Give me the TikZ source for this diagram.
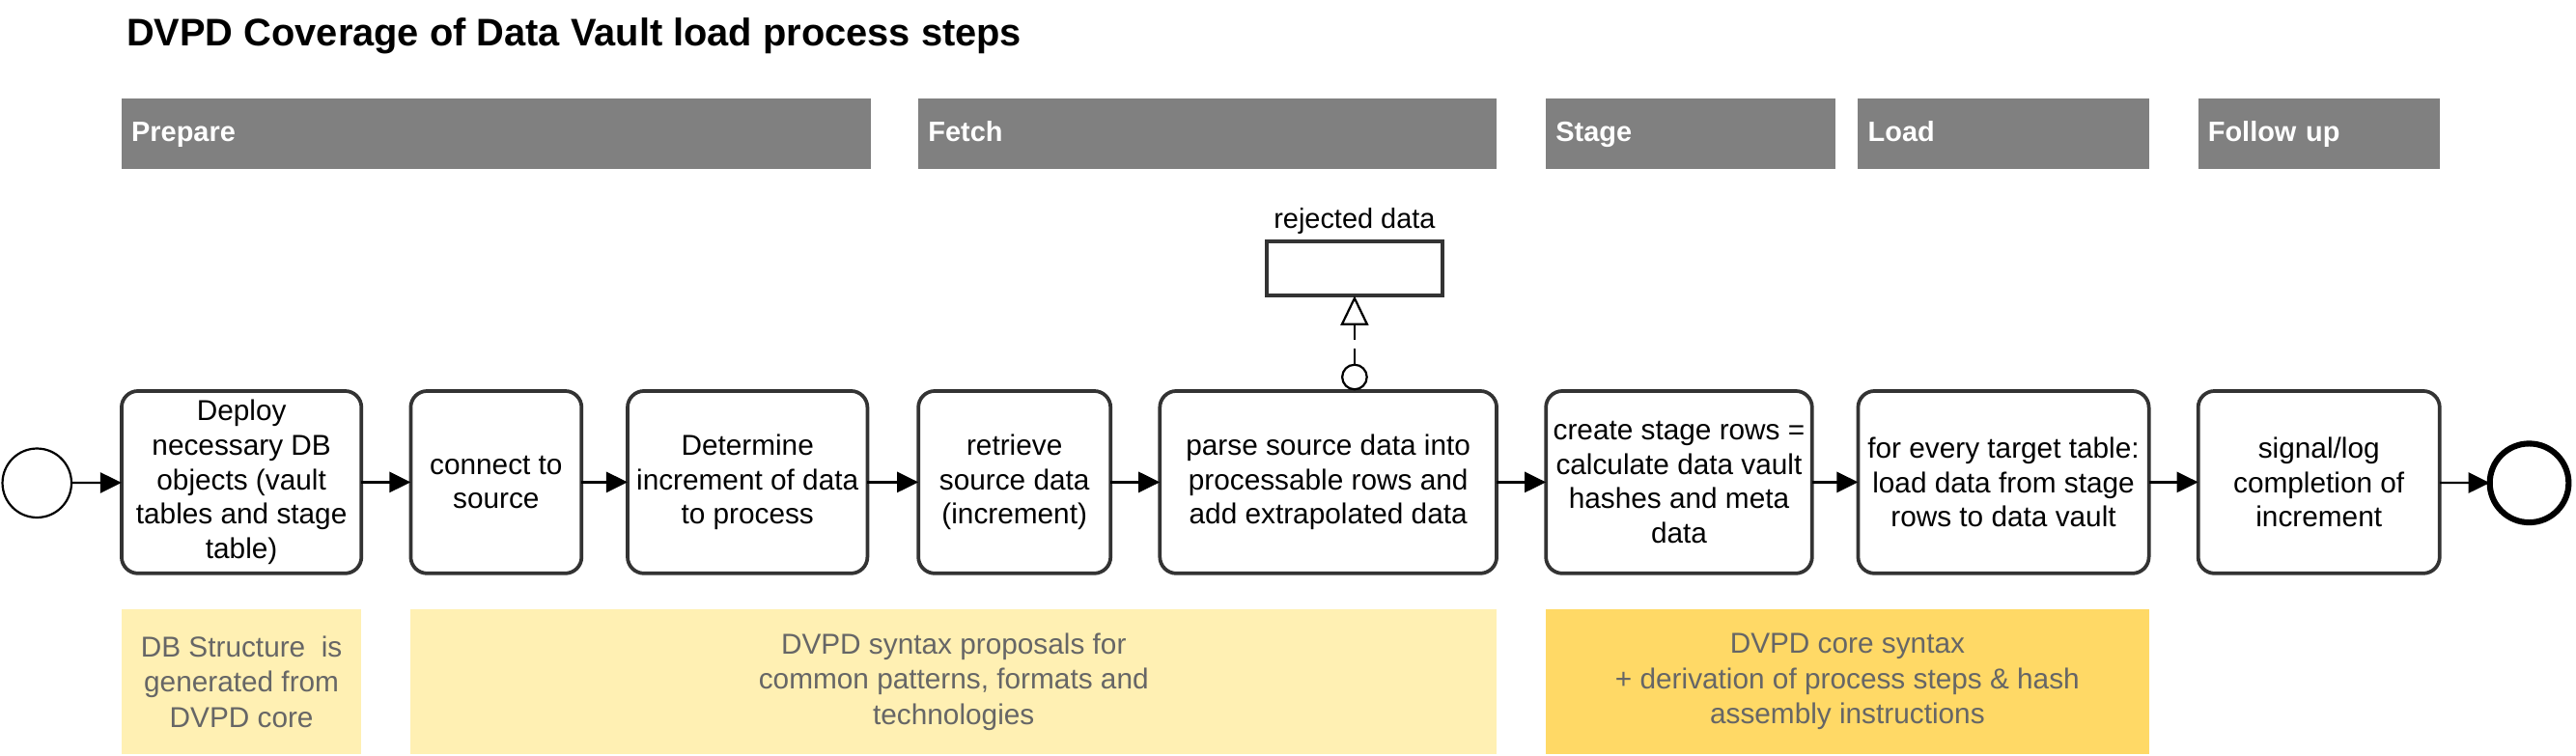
\documentclass[tikz,border=0pt]{standalone}
\usepackage{fontspec}
\setmainfont{Liberation Sans}
\usetikzlibrary{arrows.meta}
\definecolor{lanegray}{HTML}{808080}
\definecolor{boxline}{HTML}{333333}
\definecolor{lightyellow}{HTML}{FFF0B3}
\definecolor{darkyellow}{HTML}{FFD966}
\definecolor{notetext}{HTML}{666666}
\begin{document}
\begin{tikzpicture}[x=1pt,y=-1pt,
  every node/.style={inner sep=0pt, outer sep=0pt},
  lane/.style={fill=lanegray, draw=none, minimum height=43pt, text=white,
    font=\fontsize{17}{20}\selectfont\bfseries, align=left, text height=12.5pt, text depth=3.5pt},
  task/.style={draw=boxline, line width=2.2pt, rounded corners=10pt, fill=white,
    minimum height=111pt, align=center, font=\fontsize{17.5}{21}\selectfont},
  note/.style={draw=none, minimum height=88pt, align=center, text=notetext,
    font=\fontsize{17.5}{21.5}\selectfont},
  flow/.style={line width=1.3pt, -{Triangle[length=13pt,width=12.5pt]}},
]
\useasboundingbox (0,0) rectangle (1568,460);

\node[anchor=west, font=\fontsize{23.4}{27}\selectfont\bfseries] (title) at (77,22)
  {DVPD Coverage of Data Vault load process steps};

% lanes
\node[lane, minimum width=456pt, text width=444pt] (lprep) at (302,81.5) {Prepare};
\node[lane, minimum width=352pt, text width=340pt] (lfetch) at (735,81.5) {Fetch};
\node[lane, minimum width=176pt, text width=164pt] (lstage) at (1029,81.5) {Stage};
\node[lane, minimum width=177pt, text width=165pt] (lload) at (1219.5,81.5) {Load};
\node[lane, minimum width=147pt, text width=135pt] (lfollow) at (1411.5,81.5) {Follow up};

% events
\node[circle, draw=black, line width=1.3pt, minimum size=42pt, fill=white] (start) at (22.5,294) {};
\node[circle, draw=black, line width=3.6pt, minimum size=48pt, fill=white] (end) at (1539.5,294) {};

% tasks
\node[task, minimum width=146pt] (t1) at (147,293.5)
  {Deploy\\necessary DB\\objects (vault\\tables and stage\\table)};
\node[task, minimum width=104pt] (t2) at (302,293.5) {connect to\\source};
\node[task, minimum width=146pt] (t3) at (455,293.5) {Determine\\increment of data\\to process};
\node[task, minimum width=117pt] (t4) at (617.5,293.5) {retrieve\\source data\\(increment)};
\node[task, minimum width=205pt] (t5) at (808.5,293.5)
  {parse source data into\\processable rows and\\add extrapolated data};
\node[task, minimum width=162pt] (t6) at (1022,293.5)
  {create stage rows =\\calculate data vault\\hashes and meta\\data};
\node[task, minimum width=177pt] (t7) at (1219.5,293.5)
  {for every target table:\\load data from stage\\rows to data vault};
\node[task, minimum width=147pt] (t8) at (1411.5,293.5) {signal/log\\completion of\\increment};

% sequence flows
\draw[flow] (start) -- (t1);
\draw[flow] (t1) -- (t2);
\draw[flow] (t2) -- (t3);
\draw[flow] (t3) -- (t4);
\draw[flow] (t4) -- (t5);
\draw[flow] (t5) -- (t6);
\draw[flow] (t6) -- (t7);
\draw[flow] (t7) -- (t8);
\draw[flow] (t8) -- (end);

% rejected data
\node[draw=boxline, line width=2.4pt, minimum width=107pt, minimum height=33pt, fill=white]
  (rej) at (824.5,163.5) {};
\node[font=\fontsize{17}{20}\selectfont, anchor=base] (rejlabel) at (824.5,139) {rejected data};
\node[circle, draw=black, line width=1.3pt, minimum size=15pt, fill=white] (att) at (824.5,229.5) {};
\draw[line width=1.3pt, dash pattern=on 10pt off 5pt,
  -{Triangle[open,length=18pt,width=17pt,fill=white]}] (att.north) -- (rej.south);

% notes
\node[note, fill=lightyellow, minimum width=146pt] (n1) at (147,415)
  {DB Structure\ \ is\\generated from\\DVPD core};
\node[note, fill=lightyellow, minimum width=661pt] (n2) at (580.5,415)
  {DVPD syntax proposals for\\common patterns, formats and\\technologies};
\node[note, fill=darkyellow, minimum width=367pt] (n3) at (1124.5,415)
  {DVPD core syntax\\+ derivation of process steps \& hash\\assembly instructions};
\end{tikzpicture}
\end{document}
